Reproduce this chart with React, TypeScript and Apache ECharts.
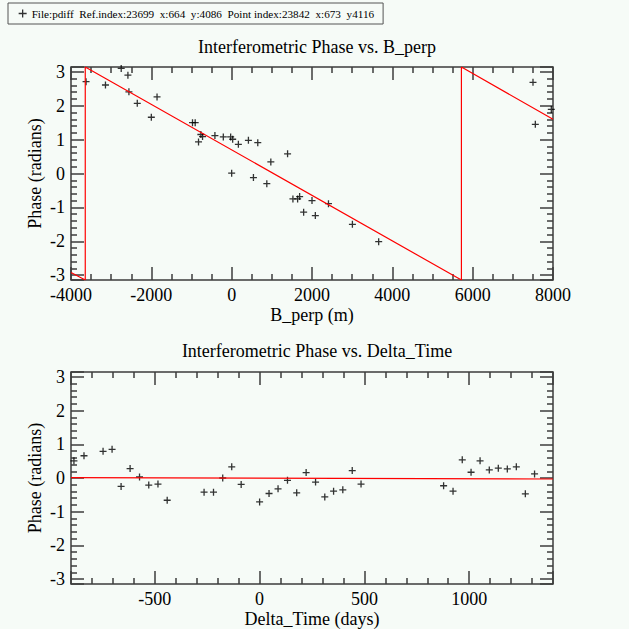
import React, { useEffect, useRef } from 'react';
import * as echarts from 'echarts';

const PI = Math.PI;

const legendLabel =
  'File:pdiff\u00a0\u00a0Ref.index:23699\u00a0\u00a0x:664\u00a0\u00a0y:4086\u00a0\u00a0Point index:23842\u00a0\u00a0x:673\u00a0\u00a0y4116';

const titleTop = 'Interferometric Phase vs. B_perp';
const titleBottom = 'Interferometric Phase vs. Delta_Time';
const xNameTop = 'B_perp (m)';
const xNameBottom = 'Delta_Time (days)';
const yName = 'Phase (radians)';

// Top panel: phase vs perpendicular baseline
const bperpValues = [
  -3625, -3142, -2750, -2583, -2558, -2350, -2000, -1858, -975, -908, -825, -767, -725, -417,
  -208, -25, 25, 0, 167, 417, 542, 650, 875, 975, 1392, 1525, 1642, 1692, 1792, 2000, 2083,
  2410, 3006, 3660, 7502, 7560, 7958,
];
const bperpPhase = [
  2.71, 2.61, 3.1, 2.9, 2.41, 2.07, 1.66, 2.26, 1.5, 1.5, 0.93, 1.15, 1.09, 1.12, 1.08, 1.08,
  1.01, 0.01, 0.86, 0.98, -0.12, 0.91, -0.3, 0.34, 0.58, -0.75, -0.75, -0.68, -1.14, -0.8, -1.24,
  -0.89, -1.5, -2.01, 2.69, 1.45, 1.89,
];
const bperpFitX = [-4000, -3645, -3645, 5720, 5720, 8000];
const bperpFitY = [-2.92, -PI, PI, -PI, PI, 1.6];

// Bottom panel: phase vs time separation
const timeValues = [
  -886, -838, -747, -704, -661, -618, -573, -529, -485, -441, -265, -220, -176, -133, -88, 0, 45,
  88, 133, 177, 222, 267, 311, 353, 397, 442, 484, 878, 923, 967, 1009, 1052, 1096, 1139, 1182,
  1225, 1268, 1312,
];
const timePhase = [
  0.51, 0.66, 0.79, 0.85, -0.25, 0.28, 0.03, -0.21, -0.18, -0.66, -0.42, -0.42, 0.0, 0.33, -0.19,
  -0.71, -0.46, -0.32, -0.07, -0.44, 0.16, -0.12, -0.56, -0.39, -0.35, 0.22, -0.18, -0.23, -0.39,
  0.54, 0.17, 0.51, 0.24, 0.29, 0.27, 0.33, -0.47, 0.12,
];
const timeFitX = [-900, 1400];
const timeFitY = [0.01, -0.03];

const FONT = "'Liberation Serif', 'DejaVu Serif', serif";
const BG = '#f6fbf7';
const FRAME = '#3c3c3c';
const PLUS = 'path://M0,5L10,5M5,0L5,10';

const zip = (xs: number[], ys: number[]) => xs.map((x, i) => [x, ys[i]]);
const plain = (v: number) => String(Math.round(v * 1000) / 1000);

const tickStyle = (len: number, minorSplit: number, minorLen: number) => ({
  axisTick: { show: true, inside: true, length: len, lineStyle: { color: FRAME, width: 1.5 } },
  minorTick: { show: true, splitNumber: minorSplit, length: minorLen, lineStyle: { color: FRAME, width: 1.5 } },
  axisLine: { show: false, onZero: false },
  splitLine: { show: false },
  minorSplitLine: { show: false },
});

const labelStyle = { color: '#000', fontFamily: FONT, fontSize: 18 };

function makeX(gridIndex: number, min: number, max: number, step: { interval?: number; minInterval?: number; maxInterval?: number }, minor: number, withLabels: boolean, name?: string) {
  return {
    type: 'value',
    gridIndex,
    position: withLabels ? 'bottom' : 'top',
    min,
    max,
    ...step,
    ...tickStyle(13, minor, 6),
    axisLabel: withLabels
      ? { show: true, margin: 6, formatter: plain, showMinLabel: step.interval != null, showMaxLabel: step.interval != null, ...labelStyle }
      : { show: false },
    name: withLabels ? name : undefined,
    nameLocation: 'middle',
    nameGap: 26,
    nameMoveOverlap: false,
    nameTextStyle: labelStyle,
  };
}

function makeY(gridIndex: number, withLabels: boolean) {
  return {
    type: 'value',
    gridIndex,
    position: withLabels ? 'left' : 'right',
    min: -PI,
    max: PI,
    minInterval: 1,
    maxInterval: 1,
    splitNumber: 6,
    ...tickStyle(13, 5, 6),
    axisLabel: withLabels
      ? { show: true, margin: 6, formatter: plain, showMinLabel: false, showMaxLabel: false, ...labelStyle, lineHeight: 14 }
      : { show: false },
    name: withLabels ? yName : undefined,
    nameLocation: 'middle',
    nameRotate: 90,
    nameGap: 27,
    nameMoveOverlap: false,
    nameTextStyle: labelStyle,
  };
}

const scatterStyle = {
  type: 'scatter',
  symbol: PLUS,
  symbolSize: 7,
  itemStyle: { color: 'transparent', borderColor: '#000', borderWidth: 1.3 },
  emphasis: { disabled: true },
};

const lineStyle = {
  type: 'line',
  showSymbol: false,
  symbol: 'none',
  lineStyle: { color: '#ff0000', width: 1.2 },
  clip: true,
};

export default function App() {
  const ref = useRef<HTMLDivElement>(null);
  useEffect(() => {
    if (!ref.current) return;
    const chart = echarts.init(ref.current, undefined, { renderer: 'svg' });
    chart.setOption({
      animation: false,
      backgroundColor: BG,
      title: [
        { text: titleTop, left: 312, top: 33, textAlign: 'center', textStyle: { ...labelStyle, fontWeight: 'normal' } },
        { text: titleBottom, left: 312, top: 337, textAlign: 'center', textStyle: { ...labelStyle, fontWeight: 'normal' } },
      ],
      legend: {
        left: 8,
        top: 3,
        padding: [5, 9, 5, 10],
        backgroundColor: BG,
        borderColor: '#555',
        borderWidth: 1,
        icon: PLUS,
        itemWidth: 8,
        itemHeight: 8,
        itemStyle: { color: 'transparent', borderColor: '#000', borderWidth: 1.3 },
        textStyle: { color: '#000', fontFamily: FONT, fontSize: 11.2 },
        data: [legendLabel],
        selectedMode: false,
      },
      grid: [
        { left: 71, top: 67, width: 482, height: 213, show: true, borderColor: FRAME, borderWidth: 1.5, backgroundColor: 'transparent' },
        { left: 71, top: 372, width: 482, height: 212, show: true, borderColor: FRAME, borderWidth: 1.5, backgroundColor: 'transparent' },
      ],
      xAxis: [
        makeX(0, -4000, 8000, { interval: 2000 }, 4, true, xNameTop),
        makeX(0, -4000, 8000, { interval: 2000 }, 4, false),
        makeX(1, -900, 1400, { minInterval: 500, maxInterval: 500 }, 5, true, xNameBottom),
        makeX(1, -900, 1400, { minInterval: 500, maxInterval: 500 }, 5, false),
      ],
      yAxis: [makeY(0, true), makeY(0, false), makeY(1, true), makeY(1, false)],
      series: [
        { ...scatterStyle, name: legendLabel, xAxisIndex: 0, yAxisIndex: 0, data: zip(bperpValues, bperpPhase) },
        { ...lineStyle, name: 'bperpFit', xAxisIndex: 0, yAxisIndex: 0, data: zip(bperpFitX, bperpFitY) },
        { ...scatterStyle, name: 'time', xAxisIndex: 2, yAxisIndex: 2, data: zip(timeValues, timePhase) },
        { ...lineStyle, name: 'timeFit', xAxisIndex: 2, yAxisIndex: 2, data: zip(timeFitX, timeFitY) },
      ],
    });
    return () => chart.dispose();
  }, []);
  return (
    <div
      ref={ref}
      style={{ position: 'fixed', left: 0, top: 0, width: 629, height: 629, background: BG }}
    />
  );
}
